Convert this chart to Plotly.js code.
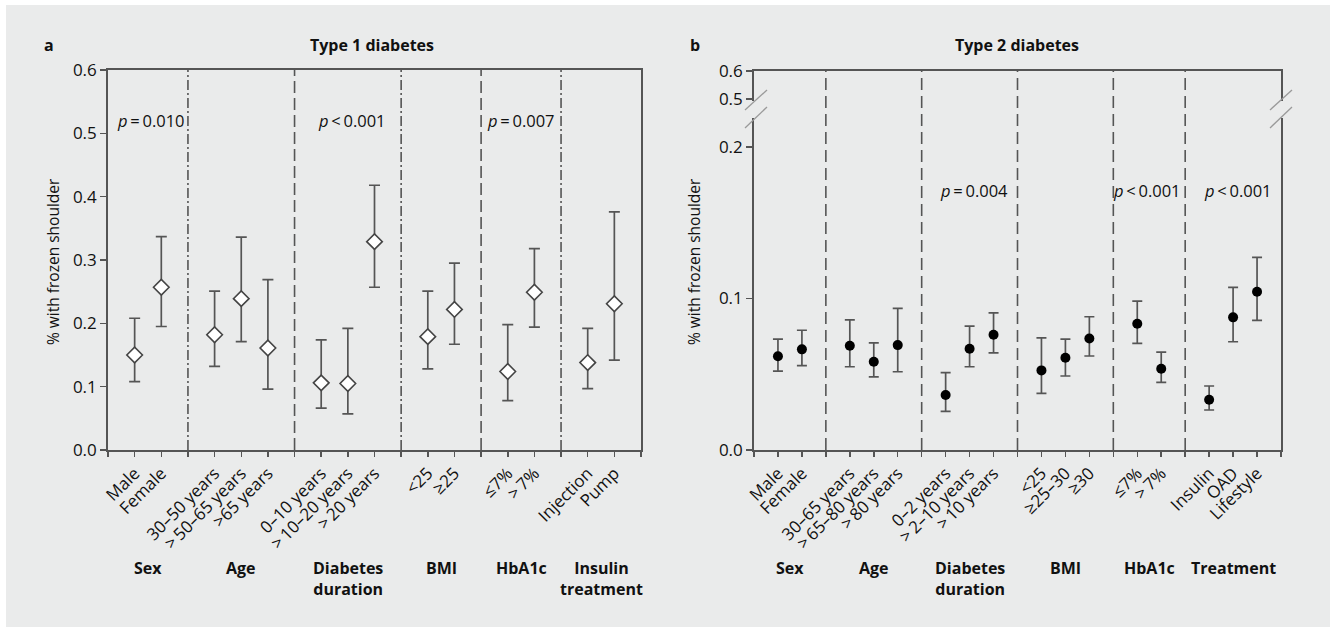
<!DOCTYPE html>
<html>
<head>
<meta charset="utf-8">
<script src="https://cdn.plot.ly/plotly-3.0.1.min.js"></script>
<style>html,body{margin:0;padding:0;background:#fff;}</style>
</head>
<body>
<div id="chart" style="width:1335px;height:630px;"></div>
<script>
// ---------- Data (a) Type 1 diabetes ----------
const t1Groups = ['Sex', 'Age', 'Diabetes<br>duration', 'BMI', 'HbA1c', 'Insulin<br>treatment'];
const t1Categories = ['Male', 'Female', '30–50 years', '>\u200950–65 years', '>65 years',
  '0–10 years', '>\u200910–20 years', '>\u200920 years', '<25', '≥25', '≤7%', '>\u20097%', 'Injection', 'Pump'];
const t1GroupOf = [0, 0, 1, 1, 1, 2, 2, 2, 3, 3, 4, 4, 5, 5];
const t1Estimate = [0.150, 0.257, 0.182, 0.239, 0.161, 0.106, 0.105, 0.329, 0.179, 0.222, 0.124, 0.249, 0.138, 0.231];
const t1Lower    = [0.108, 0.195, 0.132, 0.171, 0.096, 0.066, 0.057, 0.257, 0.128, 0.167, 0.078, 0.194, 0.097, 0.142];
const t1Upper    = [0.208, 0.337, 0.251, 0.336, 0.269, 0.174, 0.192, 0.418, 0.251, 0.295, 0.198, 0.318, 0.192, 0.376];
const t1PValues  = ['<i>p</i>\u2009=\u20090.010', '<i>p</i>\u2009<\u20090.001', '<i>p</i>\u2009=\u20090.007'];
const t1YTicks   = [0, 0.1, 0.2, 0.3, 0.4, 0.5, 0.6];

// ---------- Data (b) Type 2 diabetes ----------
const t2Groups = ['Sex', 'Age', 'Diabetes<br>duration', 'BMI', 'HbA1c', 'Treatment'];
const t2Categories = ['Male', 'Female', '30–65 years', '>\u200965–80 years', '>\u200980 years',
  '0–2 years', '>\u20092–10 years', '>\u200910 years', '<25', '≥25–30', '≥30', '≤7%', '>\u20097%', 'Insulin', 'OAD', 'Lifestyle'];
const t2GroupOf = [0, 0, 1, 1, 1, 2, 2, 2, 3, 3, 3, 4, 4, 5, 5, 5];
const t2Estimate = [0.0618, 0.0664, 0.0688, 0.0582, 0.0692, 0.0363, 0.0668, 0.0760, 0.0525, 0.0608, 0.0736, 0.0833, 0.0536, 0.0332, 0.0875, 0.1044];
const t2Lower    = [0.0520, 0.0556, 0.0549, 0.0483, 0.0516, 0.0255, 0.0549, 0.0641, 0.0374, 0.0488, 0.0620, 0.0703, 0.0446, 0.0264, 0.0714, 0.0855];
const t2Upper    = [0.0732, 0.0790, 0.0859, 0.0707, 0.0934, 0.0510, 0.0817, 0.0905, 0.0740, 0.0732, 0.0879, 0.0982, 0.0646, 0.0422, 0.1073, 0.1270];
const t2PValues  = ['<i>p</i>\u2009=\u20090.004', '<i>p</i>\u2009<\u20090.001', '<i>p</i>\u2009<\u20090.001'];
const t2YTickText = ['0.0', '0.1', '0.2', '0.5', '0.6'];

// ---------- Helpers ----------
const W = 1335, H = 630;
const PX = x => x / W;
const PY = y => 1 - y / H;
const FONT = 'Open Sans, Noto Sans, sans-serif';
const BG = '#eaebeb';
const LINE = '#555555';

function positions(groupOf) {
  return groupOf.map((g, i) => i + g + 1);
}
function dividers(groupOf) {
  const xs = positions(groupOf), out = [];
  for (let i = 0; i < groupOf.length - 1; i++) if (groupOf[i + 1] !== groupOf[i]) out.push(xs[i] + 1);
  return out;
}
function groupCenters(groupOf, nGroups) {
  const xs = positions(groupOf), c = [];
  for (let g = 0; g < nGroups; g++) {
    const m = xs.filter((_, i) => groupOf[i] === g);
    c.push((Math.min(...m) + Math.max(...m)) / 2);
  }
  return c;
}
function tickSetup(groupOf, cats) {
  const xs = positions(groupOf);
  const end = xs[xs.length - 1] + 1;
  const vals = [], text = [];
  for (let v = 0; v <= end; v++) {
    vals.push(v);
    const k = xs.indexOf(v);
    text.push(k >= 0 ? cats[k] : '');
  }
  return {vals, text, end};
}

const x1 = positions(t1GroupOf), x2 = positions(t2GroupOf);
const tk1 = tickSetup(t1GroupOf, t1Categories), tk2 = tickSetup(t2GroupOf, t2Categories);

const traces = [
  {
    type: 'scatter', mode: 'markers', xaxis: 'x', yaxis: 'y',
    x: x1, y: t1Estimate,
    error_y: {type: 'data', symmetric: false,
      array: t1Upper.map((u, i) => u - t1Estimate[i]),
      arrayminus: t1Lower.map((l, i) => t1Estimate[i] - l),
      color: LINE, thickness: 1.7, width: 5.5},
    marker: {symbol: 'diamond', size: 12, color: '#ffffff', line: {color: '#444', width: 1.6}},
    hoverinfo: 'skip', showlegend: false
  },
  {
    type: 'scatter', mode: 'markers', xaxis: 'x2', yaxis: 'y2',
    x: x2, y: t2Estimate,
    error_y: {type: 'data', symmetric: false,
      array: t2Upper.map((u, i) => u - t2Estimate[i]),
      arrayminus: t2Lower.map((l, i) => t2Estimate[i] - l),
      color: LINE, thickness: 1.7, width: 5},
    marker: {symbol: 'circle', size: 10, color: '#000000'},
    hoverinfo: 'skip', showlegend: false
  }
];

const tickFont = {family: FONT, size: 17, color: '#111'};
const xCommon = {
  tickangle: -45, ticks: 'outside', ticklen: 5, tickwidth: 1.5, tickcolor: LINE,
  showline: true, linecolor: LINE, linewidth: 1.8, mirror: true,
  showgrid: false, zeroline: false, tickfont: tickFont, fixedrange: true
};
const yCommon = {
  ticks: 'outside', ticklen: 6, tickwidth: 1.5, tickcolor: LINE,
  showline: true, linecolor: LINE, linewidth: 1.8, mirror: true,
  showgrid: false, zeroline: false, tickfont: tickFont, fixedrange: true
};

const shapes = [
  {type: 'rect', xref: 'paper', yref: 'paper', x0: PX(6), x1: PX(1330), y0: PY(627), y1: PY(5),
   fillcolor: BG, line: {width: 0}, layer: 'below'}
];
const t1DividerDash = ['10px,3px,2px,3px', '12px,5px', '10px,3px,2px,3px', '12px,5px', '10px,3px,2px,3px'];
dividers(t1GroupOf).forEach((d, i) => shapes.push({
  type: 'line', xref: 'x', yref: 'y domain', x0: d, x1: d, y0: 0, y1: 1,
  line: {color: LINE, width: 1.6, dash: t1DividerDash[i]}, layer: 'above'
}));
dividers(t2GroupOf).forEach(d => shapes.push({
  type: 'line', xref: 'x2', yref: 'y2 domain', x0: d, x1: d, y0: 0, y1: 1,
  line: {color: LINE, width: 1.6, dash: '12px,6px'}, layer: 'above'
}));
// axis break marks panel b
[754, 1281].forEach((ax, k) => {
  shapes.push({type: 'rect', xref: 'paper', yref: 'paper', x0: PX(ax - 4), x1: PX(ax + 4),
    y0: PY(118), y1: PY(101), fillcolor: BG, line: {width: 0}, layer: 'above'});
  const off = k === 0 ? -9 : -11;
  shapes.push({type: 'line', xref: 'paper', yref: 'paper', x0: PX(ax + off), x1: PX(ax + off + 22),
    y0: PY(110), y1: PY(90), line: {color: '#9a9a9a', width: 1.3}, layer: 'above'});
  shapes.push({type: 'line', xref: 'paper', yref: 'paper', x0: PX(ax + off), x1: PX(ax + off + 22),
    y0: PY(128), y1: PY(107), line: {color: '#9a9a9a', width: 1.3}, layer: 'above'});
});

const annotations = [];
const boldFont = {family: FONT, size: 16, color: '#111', weight: 'bold'};
function addText(text, xref, x, yref, y, font, extra) {
  annotations.push(Object.assign({text, xref, x, yref, y, showarrow: false, font,
    xanchor: 'center', yanchor: 'middle'}, extra || {}));
}
addText('<b>a</b>', 'paper', PX(49), 'paper', PY(45), boldFont);
addText('<b>Type 1 diabetes</b>', 'paper', PX(372), 'paper', PY(45), boldFont);
addText('<b>b</b>', 'paper', PX(695), 'paper', PY(45), boldFont);
addText('<b>Type 2 diabetes</b>', 'paper', PX(1017), 'paper', PY(45), boldFont);

const ytFont = {family: FONT, size: 15.5, color: '#111'};
addText('% with frozen shoulder', 'paper', PX(53), 'paper', PY(262), ytFont, {textangle: -90});
addText('% with frozen shoulder', 'paper', PX(694), 'paper', PY(262), ytFont, {textangle: -90});

const pFont = {family: FONT, size: 16.5, color: '#111'};
const t1PX = [1.6, 9.15, 15.5], t2PX = [9.2, 16.4, 20.2];
t1PValues.forEach((t, i) => addText(t, 'x', t1PX[i], 'paper', PY(120), pFont));
t2PValues.forEach((t, i) => addText(t, 'x2', t2PX[i], 'paper', PY(190), pFont));

groupCenters(t1GroupOf, t1Groups.length).forEach((c, i) =>
  addText('<b>' + t1Groups[i].replace('<br>', '</b><br><b>') + '</b>', 'x', c, 'paper', PY(555), boldFont, {yanchor: 'top'}));
groupCenters(t2GroupOf, t2Groups.length).forEach((c, i) =>
  addText('<b>' + t2Groups[i].replace('<br>', '</b><br><b>') + '</b>', 'x2', c, 'paper', PY(555), boldFont, {yanchor: 'top'}));

const layout = {
  width: W, height: H, autosize: false,
  margin: {l: 0, r: 0, t: 0, b: 0},
  paper_bgcolor: '#ffffff', plot_bgcolor: 'rgba(0,0,0,0)',
  font: {family: FONT, color: '#111'},
  showlegend: false,
  xaxis: Object.assign({}, xCommon, {domain: [PX(108), PX(641)], range: [0, tk1.end],
    tickmode: 'array', tickvals: tk1.vals, ticktext: tk1.text, anchor: 'y'}),
  yaxis: Object.assign({}, yCommon, {domain: [PY(450), PY(70)], range: [0, 0.6],
    tickmode: 'array', tickvals: t1YTicks, ticktext: t1YTicks.map(v => v.toFixed(1)), anchor: 'x'}),
  xaxis2: Object.assign({}, xCommon, {domain: [PX(754), PX(1281)], range: [0, tk2.end],
    tickmode: 'array', tickvals: tk2.vals, ticktext: tk2.text, anchor: 'y2'}),
  yaxis2: Object.assign({}, yCommon, {domain: [PY(450), PY(71)], range: [0, 0.25],
    tickmode: 'array', tickvals: [0, 0.1, 0.2, 0.2314, 0.25], ticktext: t2YTickText, anchor: 'x2'}),
  shapes, annotations
};

Plotly.newPlot('chart', traces, layout, {displayModeBar: false, staticPlot: true});
</script>
</body>
</html>
